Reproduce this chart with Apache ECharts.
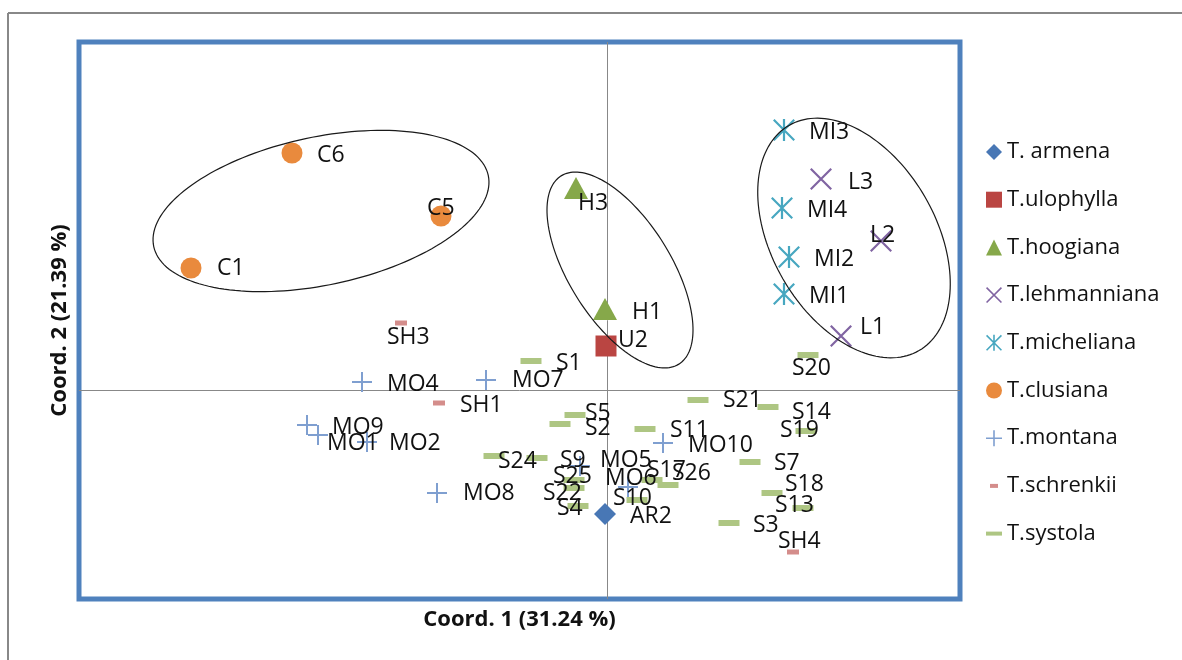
<!DOCTYPE html>
<html>
<head>
<meta charset="utf-8">
<title>PCoA</title>
<script src="https://cdn.jsdelivr.net/npm/echarts/dist/echarts.min.js"></script>
<style>
  html, body { margin: 0; padding: 0; background: #fff; }
  #chart { width: 1182px; height: 660px; }
</style>
</head>
<body>
<div id="chart"></div>
<script>
// samples per species: [label, coord 1, coord 2]
const armena = [['AR2', -0.002, -0.124]];
const ulophylla = [['U2', -0.001, 0.044]];
const hoogiana = [['H3', -0.031, 0.202], ['H1', -0.002, 0.081]];
const lehmanniana = [['L3', 0.214, 0.211], ['L2', 0.274, 0.149], ['L1', 0.234, 0.054]];
const micheliana = [['MI3', 0.177, 0.260], ['MI4', 0.175, 0.182], ['MI2', 0.182, 0.133], ['MI1', 0.177, 0.096]];
const clusiana = [['C6', -0.315, 0.237], ['C5', -0.166, 0.174], ['C1', -0.416, 0.122]];
const montana = [['MO4', -0.245, 0.008], ['MO7', -0.121, 0.010], ['MO9', -0.300, -0.035], ['MO1', -0.289, -0.045],
  ['MO2', -0.240, -0.052], ['MO8', -0.170, -0.103], ['MO5', -0.027, -0.076], ['MO6', 0.021, -0.097], ['MO10', 0.056, -0.053]];
const schrenkii = [['SH3', -0.206, 0.067], ['SH1', -0.168, -0.013], ['SH4', 0.186, -0.162]];
const systola = [['S1', -0.076, 0.029], ['S2', -0.047, -0.034], ['S3', 0.122, -0.133], ['S4', -0.029, -0.116],
  ['S5', -0.032, -0.025], ['S7', 0.143, -0.072], ['S9', -0.070, -0.068], ['S10', 0.030, -0.110],
  ['S11', 0.038, -0.039], ['S13', 0.196, -0.118], ['S14', 0.161, -0.017], ['S17', 0.045, -0.090],
  ['S18', 0.165, -0.103], ['S19', 0.199, -0.041], ['S20', 0.201, 0.035], ['S21', 0.091, -0.010],
  ['S22', -0.033, -0.098], ['S24', -0.113, -0.066], ['S25', -0.033, -0.090], ['S26', 0.061, -0.095]];

// group ellipses: [centre x, centre y, semi-axis a, semi-axis b, angle deg]
const groupEllipses = [[-0.286, 0.179, 0.171, 0.074, 12], [0.013, 0.120, 0.111, 0.051, -58], [0.247, 0.152, 0.130, 0.082, -60]];

const speciesNames = ['T. armena', 'T.ulophylla', 'T.hoogiana', 'T.lehmanniana', 'T.micheliana',
  'T.clusiana', 'T.montana', 'T.schrenkii', 'T.systola'];
const speciesData = [armena, ulophylla, hoogiana, lehmanniana, micheliana, clusiana, montana, schrenkii, systola];

const FONT = '"Open Sans", "DejaVu Sans", sans-serif';
const plusPath = 'path://M9,0H11V20H9ZM0,9H20V11H0Z';
const crossPath = 'path://M0,1.4L1.4,0L20,18.6L18.6,20ZM18.6,0L20,1.4L1.4,20L0,18.6Z';
const starPath = 'path://M0,1.4L1.4,0L20,18.6L18.6,20ZM18.6,0L20,1.4L1.4,20L0,18.6ZM9,0H11V20H9Z';

// marker look per series (same order as speciesNames)
const looks = [
  { symbol: 'diamond', size: [22, 22], color: '#4877B5', icon: 'diamond' },
  { symbol: 'rect', size: [21, 21], color: '#BA4542', icon: 'rect' },
  { symbol: 'triangle', size: [24, 22], color: '#86A84A', icon: 'triangle' },
  { symbol: crossPath, size: [22, 22], color: '#8064A2', icon: crossPath },
  { symbol: starPath, size: [22, 22], color: '#47A7C0', icon: starPath },
  { symbol: 'circle', size: [21, 21], color: '#E98A3D', icon: 'circle' },
  { symbol: plusPath, size: [20, 20], color: '#7F9FD0', icon: plusPath },
  { symbol: 'rect', size: [12, 5], color: '#D48D8B', icon: 'path://M0,0M16,16M4,6H12V10H4Z' },
  { symbol: 'rect', size: [21, 6], color: '#AEC683', icon: 'path://M0,0M16,16M0,6H16V10H0Z' }
];

// where each label sits: [text left - marker x, text middle - marker y] in px
const labelNudge = {
  U2: [12, -6], H3: [2, 15], H1: [27, 3], L3: [27, 3], L2: [-11, -6], L1: [19, -9],
  C5: [-14, -8], C1: [26, 0], MO7: [26, 0], MO1: [9, 8], MO2: [22, 1], MO8: [26, 0],
  MO5: [20, -6], MO6: [-23, -9], SH3: [-14, 14], SH1: [21, 2], SH4: [-15, -11],
  S20: [-16, 13], S5: [10, -2], S2: [25, 4], S21: [25, 0], S14: [24, 5], S11: [25, 1],
  S19: [-26, -1], S24: [4, 5], S9: [23, 2], S25: [-21, -4], S22: [-31, 5], S4: [-21, 2],
  S10: [-24, -2], S17: [-5, -10], S26: [4, -12], S7: [24, 1], S18: [13, -9], S13: [-28, -3], S3: [24, 2]
};

const series = speciesNames.map(function (name, i) {
  const look = looks[i];
  return {
    name: name,
    type: 'scatter',
    symbol: look.symbol,
    symbolSize: look.size,
    itemStyle: { color: look.color, opacity: 1 },
    label: {
      show: true,
      formatter: '{b}',
      position: 'right',
      distance: 0,
      fontFamily: FONT,
      fontSize: 23,
      color: '#111'
    },
    emphasis: { disabled: true },
    z: 3,
    data: speciesData[i].map(function (row) {
      const nudge = labelNudge[row[0]] || [25, 2];
      return {
        name: row[0],
        value: [row[1], row[2]],
        label: { offset: [nudge[0] - look.size[0] / 2, nudge[1]] }
      };
    })
  };
});

// the two zero lines
series[0].markLine = {
  silent: true,
  symbol: 'none',
  z: 1,
  label: { show: false },
  lineStyle: { color: '#888', width: 1, type: 'solid' },
  data: [{ xAxis: 0 }, { yAxis: 0 }]
};

// ellipses round the groups
series.push({
  type: 'custom',
  silent: true,
  z: 5,
  encode: { x: 0, y: 1 },
  data: groupEllipses,
  renderItem: function (params, api) {
    const cx = api.value(0), cy = api.value(1), a = api.value(2), b = api.value(3);
    const t = api.value(4) * Math.PI / 180;
    const pts = [];
    for (let k = 0; k < 160; k++) {
      const u = k / 160 * Math.PI * 2;
      const x = cx + a * Math.cos(u) * Math.cos(t) - b * Math.sin(u) * Math.sin(t);
      const y = cy + a * Math.cos(u) * Math.sin(t) + b * Math.sin(u) * Math.cos(t);
      pts.push(api.coord([x, y]));
    }
    return {
      type: 'polygon',
      shape: { points: pts },
      style: { fill: 'none', stroke: '#1a1a1a', lineWidth: 1.2 }
    };
  }
});

const chart = echarts.init(document.getElementById('chart'));
chart.setOption({
  animation: false,
  backgroundColor: '#fff',
  grid: {
    left: 79, top: 42, right: 222, bottom: 61,
    show: true, borderColor: '#4F81BD', borderWidth: 5, backgroundColor: '#fff',
    outerBoundsMode: 'none'
  },
  xAxis: {
    type: 'value', min: -0.528, max: 0.353,
    axisLine: { show: false, onZero: false }, axisTick: { show: false },
    axisLabel: { show: false }, splitLine: { show: false },
    name: 'Coord. 1 (31.24 %)', nameLocation: 'middle', nameGap: 10,
    nameTextStyle: { fontFamily: FONT, fontSize: 22, fontWeight: 'bold', color: '#111' }
  },
  yAxis: {
    type: 'value', min: -0.209, max: 0.348,
    axisLine: { show: false, onZero: false }, axisTick: { show: false },
    axisLabel: { show: false }, splitLine: { show: false },
    name: 'Coord. 2 (21.39 %)', nameLocation: 'middle', nameGap: 8,
    nameTextStyle: { fontFamily: FONT, fontSize: 22, fontWeight: 'bold', color: '#111' }
  },
  legend: {
    orient: 'vertical',
    left: 981, top: 136,
    itemWidth: 16, itemHeight: 16, itemGap: 25.7,
    selectedMode: false,
    textStyle: { fontFamily: FONT, fontSize: 22, color: '#111' },
    data: speciesNames.map(function (n, i) { return { name: n, icon: looks[i].icon }; })
  },
  graphic: [
    { type: 'line', shape: { x1: 8, y1: 13, x2: 1182, y2: 13 }, style: { stroke: '#888', lineWidth: 2 }, z: -10 },
    { type: 'line', shape: { x1: 8, y1: 13, x2: 8, y2: 660 }, style: { stroke: '#888', lineWidth: 2 }, z: -10 }
  ],
  series: series
});
</script>
</body>
</html>
